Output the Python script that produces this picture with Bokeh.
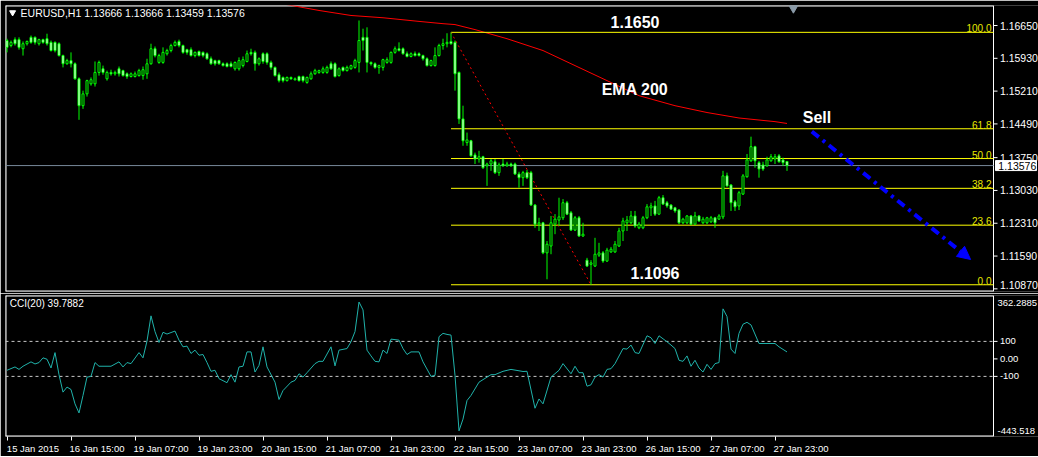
from bokeh.plotting import figure
from bokeh.layouts import column
from bokeh.models import (Range1d, LinearAxis, FixedTicker, Label, Arrow, NormalHead,
                          ColumnDataSource)
from bokeh.embed import file_html
from bokeh.resources import INLINE
from bokeh.core.properties import value

# ---------------- data ----------------
time_tick_bars = [0, 16, 32, 48, 64, 80, 96, 112, 128, 144, 160, 176, 192]
time_tick_labels = ["15 Jan 2015", "16 Jan 15:00", "19 Jan 07:00", "19 Jan 23:00",
                    "20 Jan 15:00", "21 Jan 07:00", "21 Jan 23:00", "22 Jan 15:00",
                    "23 Jan 07:00", "23 Jan 23:00", "26 Jan 15:00", "27 Jan 07:00",
                    "27 Jan 23:00"]

price_ticks = [1.1665, 1.1593, 1.1521, 1.1449, 1.1375, 1.1303, 1.1231, 1.1159, 1.1087]
cci_ticks = [100, 0, -100]
cci_tick_labels = ["100", "0.00", "-100"]
cci_min, cci_max = -443.518, 362.2885

opens = [
    1.1632, 1.1621, 1.1634, 1.1634, 1.1614, 1.1625, 1.1639, 1.1639, 1.1625, 1.1634,
    1.1636, 1.1628, 1.1628, 1.1625, 1.1599, 1.1581, 1.1588, 1.1581, 1.1548, 1.1489,
    1.1515, 1.1537, 1.1537, 1.1562, 1.1570, 1.1548, 1.1562, 1.1559, 1.1570, 1.1566,
    1.1559, 1.1553, 1.1553, 1.1555, 1.1555, 1.1559, 1.1581, 1.1614, 1.1584, 1.1584,
    1.1603, 1.1610, 1.1621, 1.1630, 1.1621, 1.1612, 1.1612, 1.1599, 1.1608, 1.1606,
    1.1603, 1.1592, 1.1588, 1.1588, 1.1581, 1.1581, 1.1581, 1.1570, 1.1570, 1.1577,
    1.1586, 1.1606, 1.1606, 1.1581, 1.1603, 1.1603, 1.1584, 1.1573, 1.1557, 1.1551,
    1.1544, 1.1551, 1.1546, 1.1553, 1.1553, 1.1540, 1.1548, 1.1559, 1.1562, 1.1562,
    1.1562, 1.1581, 1.1581, 1.1555, 1.1573, 1.1566, 1.1570, 1.1573, 1.1584, 1.1639,
    1.1639, 1.1584, 1.1581, 1.1573, 1.1573, 1.1584, 1.1584, 1.1606, 1.1614, 1.1614,
    1.1603, 1.1597, 1.1603, 1.1603, 1.1599, 1.1592, 1.1577, 1.1577, 1.1599, 1.1621,
    1.1625, 1.1630, 1.1628, 1.1562, 1.1460, 1.1408, 1.1412, 1.1381, 1.1372, 1.1377,
    1.1357, 1.1361, 1.1366, 1.1342, 1.1361, 1.1357, 1.1361, 1.1361, 1.1339, 1.1331,
    1.1342, 1.1342, 1.1271, 1.1229, 1.1232, 1.1166, 1.1181, 1.1229, 1.1238, 1.1243,
    1.1276, 1.1254, 1.1216, 1.1243, 1.1203, 1.1150, 1.1141, 1.1137, 1.1161, 1.1166,
    1.1148, 1.1168, 1.1168, 1.1181, 1.1214, 1.1232, 1.1232, 1.1247, 1.1221, 1.1221,
    1.1243, 1.1265, 1.1269, 1.1251, 1.1287, 1.1276, 1.1271, 1.1265, 1.1260, 1.1232,
    1.1232, 1.1247, 1.1229, 1.1247, 1.1232, 1.1232, 1.1234, 1.1243, 1.1240, 1.1245,
    1.1335, 1.1315, 1.1278, 1.1269, 1.1295, 1.1333, 1.1368, 1.1399, 1.1364, 1.1359,
    1.1357, 1.1368, 1.1372, 1.1379, 1.1370, 1.13666]

highs = [
    1.1636, 1.1632, 1.1639, 1.1639, 1.1630, 1.1632, 1.1643, 1.1641, 1.1636, 1.1636,
    1.1647, 1.1632, 1.1630, 1.1628, 1.1601, 1.1592, 1.1606, 1.1584, 1.1551, 1.1522,
    1.1546, 1.1551, 1.1586, 1.1588, 1.1577, 1.1566, 1.1568, 1.1566, 1.1575, 1.1568,
    1.1562, 1.1562, 1.1564, 1.1570, 1.1575, 1.1592, 1.1625, 1.1619, 1.1603, 1.1617,
    1.1614, 1.1625, 1.1632, 1.1634, 1.1623, 1.1614, 1.1617, 1.1608, 1.1610, 1.1608,
    1.1606, 1.1597, 1.1590, 1.1590, 1.1584, 1.1584, 1.1586, 1.1586, 1.1595, 1.1597,
    1.1610, 1.1614, 1.1610, 1.1595, 1.1606, 1.1606, 1.1588, 1.1575, 1.1562, 1.1553,
    1.1553, 1.1553, 1.1551, 1.1555, 1.1555, 1.1553, 1.1564, 1.1570, 1.1568, 1.1575,
    1.1577, 1.1586, 1.1584, 1.1573, 1.1575, 1.1577, 1.1579, 1.1592, 1.1676, 1.1658,
    1.1661, 1.1586, 1.1584, 1.1579, 1.1592, 1.1595, 1.1608, 1.1619, 1.1628, 1.1617,
    1.1608, 1.1606, 1.1608, 1.1606, 1.1601, 1.1595, 1.1590, 1.1617, 1.1625, 1.1636,
    1.1648, 1.1650, 1.1632, 1.1564, 1.1489, 1.1430, 1.1414, 1.1386, 1.1390, 1.1379,
    1.1364, 1.1372, 1.1372, 1.1364, 1.1372, 1.1366, 1.1364, 1.1364, 1.1344, 1.1346,
    1.1348, 1.1346, 1.1273, 1.1243, 1.1234, 1.1192, 1.1247, 1.1251, 1.1287, 1.1284,
    1.1280, 1.1258, 1.1247, 1.1247, 1.1232, 1.1155, 1.1150, 1.1199, 1.1188, 1.1170,
    1.1177, 1.1179, 1.1192, 1.1221, 1.1243, 1.1247, 1.1258, 1.1258, 1.1234, 1.1247,
    1.1273, 1.1276, 1.1280, 1.1291, 1.1293, 1.1280, 1.1273, 1.1267, 1.1262, 1.1243,
    1.1249, 1.1249, 1.1256, 1.1249, 1.1245, 1.1245, 1.1247, 1.1245, 1.1251, 1.1346,
    1.1342, 1.1317, 1.1282, 1.1302, 1.1339, 1.1383, 1.1421, 1.1401, 1.1368, 1.1366,
    1.1377, 1.1383, 1.1383, 1.1383, 1.1375, 1.13666]

lows = [
    1.1606, 1.1617, 1.1621, 1.1612, 1.1599, 1.1621, 1.1625, 1.1623, 1.1621, 1.1625,
    1.1621, 1.1608, 1.1606, 1.1597, 1.1573, 1.1579, 1.1573, 1.1546, 1.1458, 1.1482,
    1.1509, 1.1533, 1.1531, 1.1555, 1.1557, 1.1544, 1.1555, 1.1555, 1.1553, 1.1553,
    1.1548, 1.1551, 1.1551, 1.1553, 1.1546, 1.1548, 1.1579, 1.1595, 1.1581, 1.1581,
    1.1599, 1.1606, 1.1619, 1.1617, 1.1603, 1.1601, 1.1597, 1.1595, 1.1597, 1.1595,
    1.1590, 1.1579, 1.1577, 1.1579, 1.1575, 1.1573, 1.1573, 1.1566, 1.1566, 1.1573,
    1.1584, 1.1599, 1.1566, 1.1577, 1.1581, 1.1579, 1.1568, 1.1553, 1.1540, 1.1540,
    1.1542, 1.1546, 1.1544, 1.1542, 1.1540, 1.1537, 1.1546, 1.1557, 1.1559, 1.1559,
    1.1559, 1.1568, 1.1551, 1.1553, 1.1564, 1.1564, 1.1568, 1.1570, 1.1562, 1.1610,
    1.1562, 1.1577, 1.1570, 1.1559, 1.1566, 1.1581, 1.1581, 1.1603, 1.1608, 1.1601,
    1.1595, 1.1595, 1.1597, 1.1597, 1.1588, 1.1575, 1.1575, 1.1575, 1.1597, 1.1612,
    1.1617, 1.1623, 1.1522, 1.1449, 1.1401, 1.1401, 1.1377, 1.1361, 1.1364, 1.1350,
    1.1313, 1.1346, 1.1339, 1.1335, 1.1355, 1.1355, 1.1355, 1.1337, 1.1309, 1.1313,
    1.1328, 1.1269, 1.1221, 1.1214, 1.1163, 1.1108, 1.1163, 1.1207, 1.1225, 1.1238,
    1.1249, 1.1214, 1.1214, 1.1201, 1.1201, 1.1135, 1.1096, 1.1135, 1.1157, 1.1144,
    1.1146, 1.1166, 1.1166, 1.1179, 1.1192, 1.1214, 1.1229, 1.1221, 1.1218, 1.1218,
    1.1240, 1.1247, 1.1247, 1.1249, 1.1271, 1.1265, 1.1260, 1.1254, 1.1229, 1.1229,
    1.1229, 1.1227, 1.1227, 1.1234, 1.1229, 1.1229, 1.1232, 1.1221, 1.1238, 1.1240,
    1.1311, 1.1258, 1.1258, 1.1260, 1.1293, 1.1331, 1.1366, 1.1353, 1.1331, 1.1346,
    1.1355, 1.1366, 1.1361, 1.1364, 1.1357, 1.13459]

closes = [
    1.1617, 1.1628, 1.1625, 1.1617, 1.1625, 1.1630, 1.1628, 1.1628, 1.1634, 1.1628,
    1.1625, 1.1610, 1.1610, 1.1599, 1.1581, 1.1588, 1.1581, 1.1548, 1.1489, 1.1515,
    1.1544, 1.1546, 1.1562, 1.1584, 1.1562, 1.1562, 1.1559, 1.1562, 1.1559, 1.1555,
    1.1553, 1.1559, 1.1559, 1.1566, 1.1568, 1.1581, 1.1614, 1.1599, 1.1599, 1.1606,
    1.1610, 1.1621, 1.1628, 1.1621, 1.1606, 1.1606, 1.1599, 1.1606, 1.1599, 1.1599,
    1.1592, 1.1581, 1.1581, 1.1581, 1.1577, 1.1575, 1.1575, 1.1584, 1.1588, 1.1590,
    1.1603, 1.1603, 1.1581, 1.1592, 1.1586, 1.1584, 1.1573, 1.1555, 1.1544, 1.1544,
    1.1551, 1.1548, 1.1548, 1.1544, 1.1544, 1.1551, 1.1559, 1.1566, 1.1566, 1.1570,
    1.1573, 1.1570, 1.1553, 1.1570, 1.1566, 1.1573, 1.1577, 1.1588, 1.1632, 1.1632,
    1.1584, 1.1581, 1.1573, 1.1577, 1.1590, 1.1590, 1.1606, 1.1614, 1.1610, 1.1603,
    1.1597, 1.1603, 1.1599, 1.1599, 1.1592, 1.1577, 1.1588, 1.1599, 1.1621, 1.1625,
    1.1628, 1.1625, 1.1559, 1.1460, 1.1412, 1.1414, 1.1379, 1.1372, 1.1377, 1.1353,
    1.1361, 1.1368, 1.1342, 1.1359, 1.1357, 1.1361, 1.1357, 1.1339, 1.1331, 1.1342,
    1.1331, 1.1271, 1.1229, 1.1232, 1.1166, 1.1185, 1.1232, 1.1240, 1.1245, 1.1276,
    1.1251, 1.1216, 1.1243, 1.1203, 1.1207, 1.1137, 1.1144, 1.1163, 1.1166, 1.1148,
    1.1172, 1.1174, 1.1185, 1.1214, 1.1236, 1.1238, 1.1247, 1.1225, 1.1229, 1.1243,
    1.1267, 1.1269, 1.1251, 1.1287, 1.1273, 1.1269, 1.1262, 1.1258, 1.1232, 1.1240,
    1.1247, 1.1229, 1.1247, 1.1236, 1.1240, 1.1243, 1.1243, 1.1232, 1.1247, 1.1335,
    1.1313, 1.1276, 1.1267, 1.1298, 1.1335, 1.1370, 1.1399, 1.1368, 1.1350, 1.1350,
    1.1370, 1.1377, 1.1377, 1.1366, 1.1364, 1.13576]

ema_bars = [68, 78, 86, 94, 103, 109, 112, 117, 125, 134, 142, 150, 158, 167, 175, 183, 192, 195]
ema_values = [1.1714, 1.1698, 1.1687, 1.1682, 1.1674, 1.1669, 1.1667, 1.1656, 1.1636, 1.1610,
              1.1577, 1.1544, 1.1511, 1.1489, 1.1474, 1.1462, 1.1454, 1.1450]

cci_bars = [0, 2, 3, 4, 6, 7, 8, 9, 10, 11, 12, 13, 14, 15, 16, 17, 18, 19, 20, 21,
            22, 23, 26, 28, 29, 30, 31, 33, 34, 35, 36, 37, 38, 39, 40, 42, 43, 44, 45, 46,
            47, 48, 49, 50, 51, 52, 53, 55, 56, 57, 58, 59, 60, 61, 62, 63, 64, 65, 67, 68,
            69, 71, 72, 73, 74, 75, 77, 78, 79, 81, 82, 83, 85, 86, 87, 88, 89, 90, 91, 92,
            93, 94, 95, 96, 98, 99, 100, 101, 103, 104, 106, 107, 108, 109, 110, 111, 112, 113, 114, 115,
            116, 118, 121, 122, 124, 126, 129, 130, 132, 133, 134, 136, 138, 139, 141, 142, 143, 144, 145, 146,
            147, 148, 149, 150, 151, 152, 154, 155, 156, 157, 158, 160, 161, 162, 163, 165, 166, 167, 168, 169,
            170, 171, 172, 173, 174, 175, 176, 177, 178, 179, 180, 181, 182, 183, 184, 185, 186, 188, 192, 193,
            195]
cci_values = [-65, -46, -60, -42, -17, -29, -21, 6, -2, -52, 36, -90, -190, -161, -175, -257, -309, -209, -104, -100,
              -21, -42, -42, -17, -46, -21, -27, 36, 6, 102, 246, 156, 94, 152, 142, 159, 107, 69, 73, 31,
              50, 21, 25, -21, -71, -65, -113, -136, -90, -133, -46, -42, 40, 40, -75, -37, 69, -46, -133, -232,
              -181, -133, -123, -85, -104, -79, -27, -14, -14, 69, -40, 50, 59, 98, 156, 325, 280, 50, 17, -14,
              -17, 50, 31, 113, 107, 59, 25, 40, 40, -17, -100, -94, 127, 146, 140, 136, -94, -411, -344, -238,
              -209, -133, -90, -90, -71, -60, -72, -71, -282, -229, -257, -104, -65, -27, -85, -42, -79, -79, -156, -148,
              -104, -90, -104, -60, -56, -27, 59, 56, 79, 36, 31, 132, 121, 88, 132, 98, 79, 59, -8, -14,
              17, -42, -8, -52, -75, -31, -60, -27, -21, 286, 242, 56, 31, 146, 198, 209, 194, 88, 88, 69,
              39.7882]

fib_ratios = [1.0, 0.618, 0.5, 0.382, 0.236, 0.0]
fib_labels = ["100.0", "61.8", "50.0", "38.2", "23.6", "0.0"]
fib_high_bar, fib_low_bar = 111, 146
fib_high, fib_low = 1.1650, 1.1096
current_price = 1.13576
sell_start = (201.2, 1.14324)
sell_end = (240.9, 1.11514)

# ---------------- styling / layout ----------------
FONT = "Liberation Sans"
LIME = "#00ff00"
PX = 4.0                         # pixels per bar
X0 = -0.375
CHART_W = 988                    # chart area width (px)
FW = 1033                        # frame width incl. the price-scale strip
RIGHT = X0 + CHART_W / PX        # right border of chart area (bar units)
YLO, YHI = 1.10812, 1.17089
FH1, FH2 = 286, 141
ppx = (YHI - YLO) / FH1          # price per pixel
cpx = (cci_max - cci_min) / FH2  # cci units per pixel

xr = Range1d(X0, X0 + FW / PX)

n = len(closes)
bars = list(range(n))
bull = [c >= o for o, c in zip(opens, closes)]
src = ColumnDataSource(dict(
    x=bars, o=opens, h=highs, l=lows, c=closes,
    top=[max(o, c) for o, c in zip(opens, closes)],
    bot=[min(o, c) for o, c in zip(opens, closes)],
    fill=["black" if b else "white" for b in bull]))


def panel_frame(p, lo, hi):
    p.segment(x0=[X0, X0], y0=[hi, lo], x1=[RIGHT, RIGHT], y1=[hi, lo],
              line_color="white", line_width=2)
    p.segment(x0=[X0, RIGHT], y0=[lo, lo], x1=[X0, RIGHT], y1=[hi, hi],
              line_color="white", line_width=[2, 1])


def scale(p, ticks, labels, size, lo, hi, unit):
    # tick marks at the true positions; labels kept inside the panel edges
    p.segment(x0=[RIGHT] * len(ticks), y0=ticks, x1=[RIGHT + 1.0] * len(ticks), y1=ticks,
              line_color="white", line_width=1)
    ly = [min(max(t, lo + 7 * unit), hi - 7 * unit) for t in ticks]
    p.text(x=[RIGHT + 1.6] * len(ticks), y=ly, text=labels, text_align="left",
           text_baseline="middle", text_color="white", text_font=value(FONT),
           text_font_size=size)


# ---------------- main price panel ----------------
p1 = figure(frame_width=FW, frame_height=FH1, x_range=xr, y_range=Range1d(YLO, YHI),
            x_axis_location=None, y_axis_location=None, toolbar_location=None,
            output_backend="svg", background_fill_color="black", border_fill_color="black",
            outline_line_color=None, min_border_left=5, min_border_top=5,
            min_border_bottom=2, min_border_right=0)
p1.grid.visible = False
panel_frame(p1, YLO, YHI)
scale(p1, price_ticks, [f"{t:.5f}" for t in price_ticks], "10.5px", YLO, YHI, ppx)

# current price line + tag
p1.segment(x0=[X0], y0=[current_price], x1=[RIGHT], y1=[current_price],
           line_color="#778899", line_width=1)
p1.quad(left=[RIGHT + 0.5], right=[RIGHT + 10.75], bottom=[current_price - 5 * ppx],
        top=[current_price + 5 * ppx], fill_color="white", line_color="white")
p1.text(x=[RIGHT + 1.2], y=[current_price], text=[f"{current_price:.5f}"], text_align="left",
        text_baseline="middle", text_color="black", text_font=value(FONT),
        text_font_size="10.5px")

# EMA 200
p1.line(ema_bars, ema_values, line_color="#ff0000", line_width=1)

# Fibonacci levels
fib_prices = [fib_low + r * (fib_high - fib_low) for r in fib_ratios]
p1.segment(x0=[fib_high_bar] * 6, y0=fib_prices, x1=[RIGHT] * 6, y1=fib_prices,
           line_color="#ffff00", line_width=1)
p1.text(x=[RIGHT - 0.5] * 6, y=fib_prices, text=fib_labels, text_align="right",
        text_baseline="bottom", text_color="#e8e800", text_font=value(FONT),
        text_font_size="10px")
p1.segment(x0=[fib_high_bar], y0=[fib_high], x1=[fib_low_bar], y1=[fib_low],
           line_color="#ff0000", line_width=1, line_dash="2 3")

# candles
p1.segment(x0="x", y0="l", x1="x", y1="h", source=src, line_color=LIME, line_width=1)
p1.vbar(x="x", width=0.5, top="top", bottom="bot", source=src, fill_color="fill",
        line_color=LIME, line_width=1)

# sell arrow
p1.add_layout(Arrow(end=NormalHead(size=13, fill_color="#0000ff", line_color="#0000ff"),
                    x_start=sell_start[0], y_start=sell_start[1],
                    x_end=sell_end[0], y_end=sell_end[1],
                    line_color="#0000ff", line_width=4, line_dash="9 5 3 5"))

# chart-shift marker
p1.scatter([196.6], [YHI - 2.5 * ppx], marker="inverted_triangle", size=9, color="#8a9aa8")


def big(x, y, t):
    p1.add_layout(Label(x=x, y=y, text=t, text_align="center", text_baseline="middle",
                        text_color="white", text_font=FONT, text_font_style="bold",
                        text_font_size="16px"))


big(157, 1.1672, "1.1650")
big(157, 1.1524, "EMA 200")
big(202.5, 1.1463, "Sell")
big(162, 1.1122, "1.1096")

p1.scatter([1.4], [YHI - 7 * ppx], marker="inverted_triangle", size=6, color="white")
p1.add_layout(Label(x=3.4, y=YHI - 7 * ppx, text="EURUSD,H1  1.13666 1.13666 1.13459 1.13576",
                    text_align="left", text_baseline="middle", text_color="white",
                    text_font=FONT, text_font_size="10.5px"))

# ---------------- CCI panel ----------------
p2 = figure(frame_width=FW, frame_height=FH2, x_range=xr, y_range=Range1d(cci_min, cci_max),
            x_axis_location=None, y_axis_location=None, toolbar_location=None,
            output_backend="svg", background_fill_color="black", border_fill_color="black",
            outline_line_color=None, min_border_left=5, min_border_top=2,
            min_border_bottom=0, min_border_right=0)
p2.grid.visible = False
panel_frame(p2, cci_min, cci_max)

scale(p2, cci_ticks, cci_tick_labels, "9.5px", cci_min, cci_max, cpx)
# range extremes, labelled just inside the panel edges
p2.text(x=[RIGHT + 1.0] * 2, y=[cci_max - 7 * cpx, cci_min + 6 * cpx],
        text=[f"{cci_max:.4f}", f"{cci_min:.3f}"], text_align="left", text_baseline="middle",
        text_color="white", text_font=value(FONT), text_font_size="9.5px")

p2.segment(x0=[X0, X0], y0=[100, -100], x1=[RIGHT, RIGHT], y1=[100, -100],
           line_color="#c8c8c8", line_width=1, line_dash="3 3")
p2.line(cci_bars, cci_values, line_color="#20b2aa", line_width=1)
p2.add_layout(Label(x=0.7, y=cci_max - 8 * cpx, text="CCI(20) 39.7882", text_align="left",
                    text_baseline="middle", text_color="white", text_font=FONT,
                    text_font_size="10px"))

xt = LinearAxis(ticker=FixedTicker(ticks=time_tick_bars), axis_line_color=None,
                major_tick_line_color="white", major_tick_out=4, major_tick_in=0,
                minor_tick_line_color=None, major_label_text_font_size="1px",
                major_label_text_alpha=0, major_label_standoff=0)
p2.add_layout(xt, "below")
lab_pos = [b + 6.5 for b in time_tick_bars]
xl = LinearAxis(ticker=FixedTicker(ticks=lab_pos),
                major_label_overrides={p: t for p, t in zip(lab_pos, time_tick_labels)},
                axis_line_color=None, major_tick_line_color=None, major_tick_out=0,
                major_tick_in=0, minor_tick_line_color=None, major_label_text_color="white",
                major_label_text_font=FONT, major_label_text_font_size="9.5px",
                major_label_standoff=2)
p2.add_layout(xl, "below")

layout = column(p1, p2, spacing=0)
open("out.html", "w").write(file_html(layout, INLINE))
